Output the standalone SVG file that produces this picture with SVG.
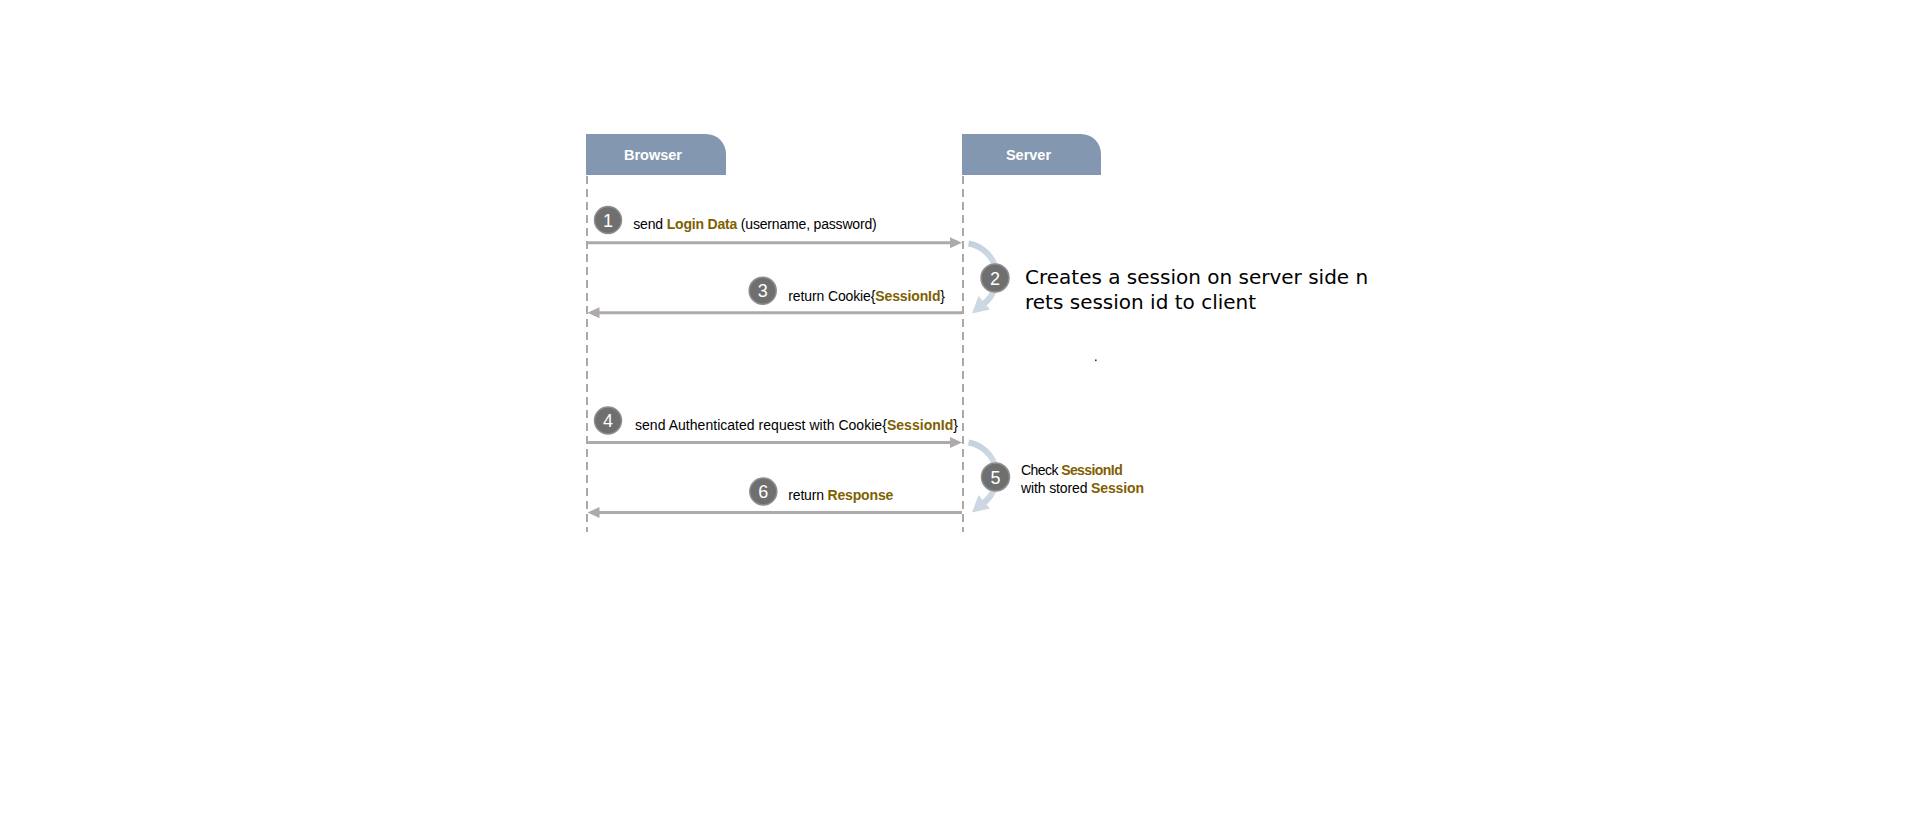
<svg xmlns="http://www.w3.org/2000/svg" width="1914" height="817" viewBox="0 0 1914 817">
<defs>
<style>
.hdr{fill:#8497b0}
.hdrt{font-family:"Liberation Sans",Arial,sans-serif;font-weight:bold;font-size:14.5px;fill:#ffffff;text-anchor:middle}
.life{stroke:#a9a9a9;stroke-width:2;stroke-dasharray:8 5;fill:none}
.msg{stroke:#aeaaaa;stroke-width:3;fill:none;marker-end:url(#ah)}
.num{fill:#6f6f6f;stroke:#8e8e8e;stroke-width:1.5}
.numt{font-family:"Liberation Sans",Arial,sans-serif;font-size:18px;fill:#ffffff;text-anchor:middle}
.lbl{font-family:"Liberation Sans",Arial,sans-serif;font-size:14px;fill:#000000}
.b{font-weight:bold;fill:#7f6000}
.big{font-family:"DejaVu Sans",Verdana,sans-serif;font-size:20px;fill:#000000}
.arc{stroke:url(#arcg);stroke-width:6;fill:none}
.arch{fill:#cdd8e3}
</style>
<marker id="ah" viewBox="0 0 12 11" refX="6" refY="5.5" markerWidth="12" markerHeight="11" markerUnits="userSpaceOnUse" orient="auto">
<path d="M0,0 L12,5.5 L0,11 Z" fill="#aeaaaa"/>
</marker>
<linearGradient id="arcg" x1="0" y1="0" x2="0" y2="1">
<stop offset="0" stop-color="#c5d1de"/>
<stop offset="0.5" stop-color="#d6dfe8"/>
<stop offset="1" stop-color="#c9d5e1"/>
</linearGradient>
</defs>
<rect x="0" y="0" width="1914" height="817" fill="#ffffff"/>

<g id="browser">
<path class="hdr" d="M586 134 H706 A20 20 0 0 1 726 154 V175 H586 Z"/>
<text class="hdrt" x="653" y="160">Browser</text>
</g>
<g id="server">
<path class="hdr" d="M962 134 H1081 A20 20 0 0 1 1101 154 V175 H962 Z"/>
<text class="hdrt" x="1028.5" y="160">Server</text>
</g>

<g id="connectors">
<line class="life" x1="587" y1="176" x2="587" y2="532"/>
<line class="life" x1="963" y1="176" x2="963" y2="532"/>
<line class="msg" x1="587" y1="242.7" x2="956" y2="242.7"/>
<line class="msg" x1="962" y1="312.7" x2="593.5" y2="312.7"/>
<line class="msg" x1="587" y1="442.5" x2="956" y2="442.5"/>
<line class="msg" x1="962" y1="512.5" x2="593.5" y2="512.5"/>
<path class="arc" d="M968.5 243.5 A34 34 0 0 1 983.5 304"/>
<polygon class="arch" points="972,313.5 990,309.5 978.5,296"/>
<path class="arc" d="M968.5 442.5 A34 34 0 0 1 983.5 503"/>
<polygon class="arch" points="972,512.5 990,508.5 978.5,495"/>
</g>

<g id="step1">
<circle class="num" cx="608" cy="220" r="13.5"/>
<text class="numt" x="608" y="226.5">1</text>
<text class="lbl" x="633.3" y="229" textLength="243.4" lengthAdjust="spacing">send <tspan class="b">Login Data</tspan> (username, password)</text>
</g>
<g id="step2">
<circle class="num" cx="995" cy="278" r="14"/>
<text class="numt" x="995" y="284.5">2</text>
<text class="big" x="1025" y="284.3">Creates a session on server side n</text>
<text class="big" x="1025" y="309">rets session id to client</text>
</g>
<g id="step3">
<circle class="num" cx="762.7" cy="290.7" r="13.5"/>
<text class="numt" x="762.7" y="297.2">3</text>
<text class="lbl" x="788.3" y="300.7" textLength="156.7" lengthAdjust="spacing">return Cookie{<tspan class="b">SessionId</tspan>}</text>
</g>
<rect x="1095" y="359.5" width="1.6" height="1.6" fill="#333333"/>
<g id="step4">
<circle class="num" cx="608" cy="420.5" r="13.5"/>
<text class="numt" x="608" y="427">4</text>
<text class="lbl" x="635" y="429.5" textLength="323" lengthAdjust="spacing">send Authenticated request with Cookie{<tspan class="b">SessionId</tspan>}</text>
</g>
<g id="step5">
<circle class="num" cx="995.5" cy="477" r="14"/>
<text class="numt" x="995.5" y="483.5">5</text>
<text class="lbl" x="1021" y="475" textLength="101.7" lengthAdjust="spacing">Check <tspan class="b">SessionId</tspan></text>
<text class="lbl" x="1021" y="492.7" textLength="123" lengthAdjust="spacing">with stored <tspan class="b">Session</tspan></text>
</g>
<g id="step6">
<circle class="num" cx="763.3" cy="491.5" r="13.5"/>
<text class="numt" x="763.3" y="498">6</text>
<text class="lbl" x="788.3" y="500" textLength="105" lengthAdjust="spacing">return <tspan class="b">Response</tspan></text>
</g>
</svg>
